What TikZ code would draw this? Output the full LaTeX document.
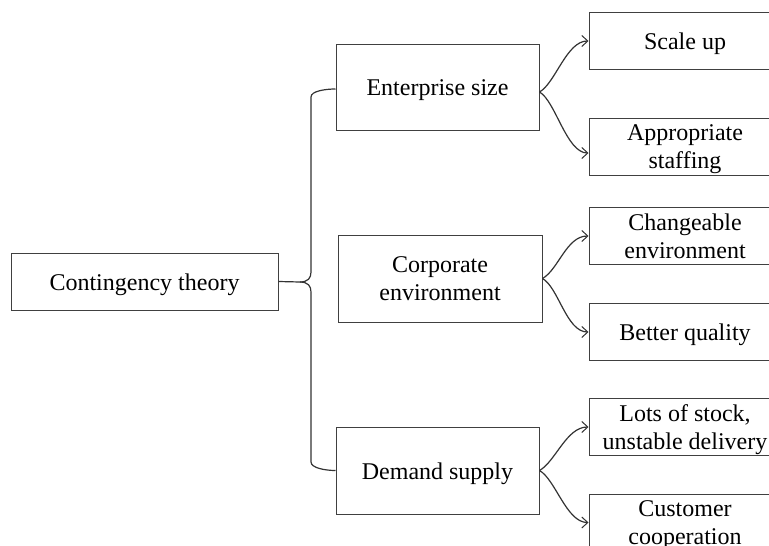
\documentclass[tikz,border=0pt]{standalone}
\usepackage{fontspec}
\setmainfont{Liberation Serif}
\usetikzlibrary{arrows.meta}
\begin{document}
\begin{tikzpicture}[x=1pt,y=-1pt,
  box/.style={draw=black!75,line width=1pt,rectangle,inner sep=0pt,align=center,
    font=\fontsize{24}{28}\selectfont,text=black},
  oneline/.style={box,text height=22.3pt,text depth=5.3pt},
  twoline/.style={box,text depth=0pt},
  conn/.style={draw=black!80,line width=1.2pt},
  arr/.style={conn,-{Straight Barb[length=6pt,width=11pt,line width=1pt]}}]
\clip (0,0) rectangle (769,546);
\fill[white] (0,0) rectangle (769,546);
\node[oneline,minimum width=267pt,minimum height=57pt] (root) at (144.5,281.5) {Contingency theory};
\node[oneline,minimum width=203pt,minimum height=86pt] (ent) at (437.5,87) {Enterprise size};
\node[twoline,minimum width=204pt,minimum height=87pt] (corp) at (440,278.5) {Corporate\\environment};
\node[oneline,minimum width=203pt,minimum height=87pt] (dem) at (437.5,470.5) {Demand supply};
\node[oneline,minimum width=192pt,minimum height=57pt] (s1) at (685,41) {Scale up};
\node[twoline,minimum width=192pt,minimum height=57pt] (s2) at (685,146.5) {Appropriate\\staffing};
\node[twoline,minimum width=192pt,minimum height=57pt] (c1) at (685,236) {Changeable\\environment};
\node[oneline,minimum width=192pt,minimum height=57pt] (c2) at (685,332) {Better quality};
\node[twoline,minimum width=192pt,minimum height=57pt] (d1) at (685,427) {Lots of stock,\\unstable delivery};
\node[twoline,minimum width=192pt,minimum height=57pt] (d2) at (685,522.5) {Customer\\cooperation};
\coordinate (tip) at (300,282);
\draw[conn] (root.east) -- (tip)
  .. controls +(8,0) and +(0,6) .. (311,272) -- (311,97)
  .. controls +(0,-6) and +(-10,0) .. ([yshift=-2pt]ent.west);
\draw[conn] (tip)
  .. controls +(8,0) and +(0,-6) .. (311,292) -- (311,462)
  .. controls +(0,6) and +(-10,0) .. (dem.west);
\draw[arr] ([yshift=-5pt]ent.east) .. controls +(16,-9) and +(-22,0) .. (s1.west);
\draw[arr] ([yshift=-5pt]ent.east) .. controls +(16,9) and +(-22,0) .. ([yshift=-6.5pt]s2.west);
\draw[arr] (corp.east) .. controls +(16,-9) and +(-22,0) .. (c1.west);
\draw[arr] (corp.east) .. controls +(16,9) and +(-22,0) .. (c2.west);
\draw[arr] (dem.east) .. controls +(16,-9) and +(-22,0) .. (d1.west);
\draw[arr] (dem.east) .. controls +(16,9) and +(-22,0) .. (d2.west);
\end{tikzpicture}
\end{document}
